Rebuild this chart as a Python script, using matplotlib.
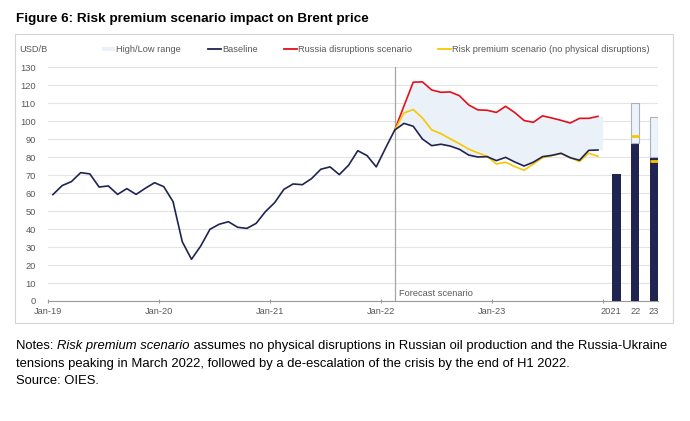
import numpy as np
import matplotlib.pyplot as plt
from matplotlib.patches import Rectangle
from matplotlib.lines import Line2D

plt.rcParams['font.family'] = ['Liberation Sans', 'DejaVu Sans']

# monthly Brent, Jan-19 .. Dec-23 (baseline incl. history)
baseline = [59.2, 64.2, 66.4, 71.4, 70.7, 63.4, 64.0, 59.3, 62.5, 59.3, 62.7, 65.8,
            63.6, 55.3, 33.0, 23.2, 30.6, 39.9, 42.7, 44.1, 41.0, 40.4, 43.2, 49.7,
            54.7, 62.1, 65.1, 64.7, 68.1, 73.3, 74.6, 70.3, 75.5, 83.6, 80.9, 74.6,
            85.0, 95.1, 98.8, 97.2, 90.1, 86.4, 87.2, 86.2, 84.4, 81.2, 80.1, 80.3,
            78.1, 79.9, 77.3, 75.1, 77.2, 80.3, 81.0, 82.2, 79.7, 78.3, 83.8, 84.0]
# scenarios, Feb-22 .. Dec-23
russia = [95.1, 108.5, 121.7, 121.9, 117.4, 116.1, 116.3, 114.2, 109.1, 106.3, 106.1, 104.9,
          108.3, 104.8, 100.4, 99.4, 103.0, 101.8, 100.5, 99.0, 101.6, 101.6, 102.7]
risk = [95.1, 104.6, 106.5, 101.8, 95.2, 93.1, 90.2, 87.5, 84.5, 82.4, 80.5, 76.2,
        77.2, 74.8, 72.7, 76.2, 79.7, 80.9, 82.0, 79.7, 77.6, 82.2, 80.5]
start = 37  # Feb-22

# annual averages
years = ['2021', '22', '23']
year_base = [70.5, 87.8, 80.1]
year_high = [None, 110.0, 102.2]
year_risk = [None, 92.0, 78.1]

month_labels = ['Jan-19', 'Jan-20', 'Jan-21', 'Jan-22', 'Jan-23', '']

navy = '#1f2451'
red = '#e30f1b'
yellow = '#f7c800'
band = '#ebf1f9'
grey = '#595959'

fig = plt.figure(figsize=(6.9, 4.21), dpi=100)
fig.patches.append(Rectangle((15/690, 1-322.7/421), 658.3/690, 288.7/421, transform=fig.transFigure,
                             fill=False, edgecolor='#d4d4d4', linewidth=0.8))
ax = fig.add_axes([48.3/690, 1-301/421, 610/690, 233.7/421])

x = np.arange(len(baseline))
xs = np.arange(start, start+len(russia))

# band baseline -> russia, extended half a month
bx = np.append(xs, xs[-1]+0.5)
blo = np.append(baseline[start:], baseline[-1])
bhi = np.append(russia, russia[-1])
ax.fill_between(bx, blo, bhi, color=band, linewidth=0, zorder=1)

ax.axvline(start, color='#a6a6a6', linewidth=0.9, zorder=2)
ax.text(start+0.45, 4, 'Forecast scenario', fontsize=6.7, color=grey, va='center', ha='left')

ax.plot(x, baseline, color=navy, linewidth=1.2, zorder=4)
ax.plot(xs, russia, color=red, linewidth=1.2, zorder=3)
ax.plot(xs, risk, color=yellow, linewidth=1.2, zorder=3)

bpos = [61.03, 63.01, 65.05]
bw = 0.94
ax.bar(bpos, year_base, width=bw, color=navy, zorder=3)
for p, b, h, r in zip(bpos, year_base, year_high, year_risk):
    if h is not None:
        ax.bar(p, h-b, bottom=b, width=bw, color='#eef3fa', edgecolor='#a9b0c0', linewidth=0.8, zorder=3)
        ax.hlines(r, p-bw/2, p+bw/2, color=yellow, linewidth=2, zorder=5)

ax.set_xlim(-0.5, 65.53)
ax.set_ylim(0, 130)
ax.set_yticks(range(0, 131, 10))
ax.yaxis.grid(True, color='#e3e3e3', linewidth=0.8)
ax.set_axisbelow(True)
for s in ['top', 'right', 'left']:
    ax.spines[s].set_visible(False)
ax.spines['bottom'].set_color('#9a9a9a')
ax.spines['bottom'].set_linewidth(0.8)

ax.set_xticks([-0.5, 11.5, 23.5, 35.5, 47.5, 59.5])
ax.set_xticklabels(month_labels)
ax.set_xticks([60.45, 63.05, 65.05], minor=True)
ax.set_xticklabels(years, minor=True)
ax.tick_params(axis='x', which='major', length=3, direction='inout', color='#9a9a9a',
               labelsize=6.7, labelcolor=grey, pad=2.5)
ax.tick_params(axis='x', which='minor', length=0, labelsize=6.7, labelcolor=grey, pad=4)
ax.tick_params(axis='y', length=0, labelsize=6.7, labelcolor=grey, pad=9)

# header line with unit and legend
ly = 1-49.3/421
fig.text(19/690, ly, 'USD/B', fontsize=6.7, color=grey, va='center')
fig.patches.append(Rectangle((101.7/690, ly-2/421), 13.5/690, 4/421, transform=fig.transFigure,
                             color=band, linewidth=0))
fig.text(116/690, ly, 'High/Low range', fontsize=6.7, color=grey, va='center')
for x0, c, lab in [(207.7, navy, 'Baseline'), (283.7, red, 'Russia disruptions scenario'),
                   (437.7, yellow, 'Risk premium scenario (no physical disruptions)')]:
    fig.add_artist(Line2D([x0/690, (x0+13.5)/690], [ly, ly], color=c, linewidth=1.3))
    fig.text((x0+14.3)/690, ly, lab, fontsize=6.7, color=grey, va='center')

fig.text(16/690, 1-21.7/421, 'Figure 6: Risk premium scenario impact on Brent price',
         fontsize=9.7, fontweight='bold', va='baseline')

# notes with italic part
fs = 9.4
r = fig.canvas.get_renderer()
t1 = fig.text(16/690, 1-349/421, 'Notes: ', fontsize=fs, va='baseline')
w1 = t1.get_window_extent(r).width
t2 = fig.text((16+w1)/690, 1-349/421, 'Risk premium scenario', fontsize=fs, style='italic', va='baseline')
w2 = t2.get_window_extent(r).width
fig.text((16+w1+w2)/690, 1-349/421,
         ' assumes no physical disruptions in Russian oil production and the Russia-Ukraine',
         fontsize=fs, va='baseline')
fig.text(16/690, 1-366.6/421,
         'tensions peaking in March 2022, followed by a de-escalation of the crisis by the end of H1 2022.',
         fontsize=fs, va='baseline')
fig.text(16/690, 1-384/421, 'Source: OIES.', fontsize=fs, va='baseline')

fig.savefig('out.png', dpi=100)
